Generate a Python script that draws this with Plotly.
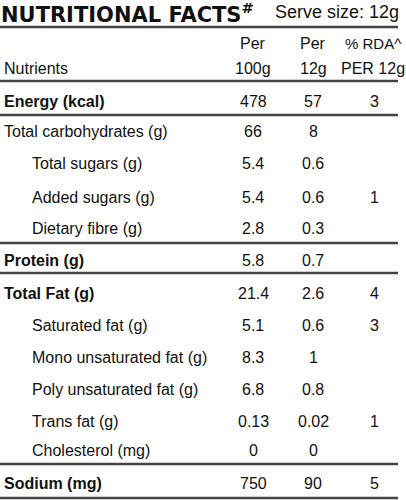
import plotly.graph_objects as go

nutrients = ["Energy (kcal)", "Total carbohydrates (g)", "Total sugars (g)", "Added sugars (g)",
             "Dietary fibre (g)", "Protein (g)", "Total Fat (g)", "Saturated fat (g)",
             "Mono unsaturated fat (g)", "Poly unsaturated fat (g)", "Trans fat (g)",
             "Cholesterol (mg)", "Sodium (mg)"]
per100 = ["478", "66", "5.4", "5.4", "2.8", "5.8", "21.4", "5.1", "8.3", "6.8", "0.13", "0", "750"]
per12 = ["57", "8", "0.6", "0.6", "0.3", "0.7", "2.6", "0.6", "1", "0.8", "0.02", "0", "90"]
rda = ["3", "", "", "1", "", "", "4", "3", "", "", "1", "", "5"]
bold = [True, False, False, False, False, True, True, False, False, False, False, False, True]
indent = [False, False, True, True, True, False, False, True, True, True, True, True, False]
row_y = [101, 131, 163, 197, 228, 260, 293, 325, 357, 389, 421, 450, 483]
rule_y = [27, 81, 115, 243, 273, 464, 498]

FONT = "Liberation Sans, Arial, sans-serif"
C = "#111111"
fig = go.Figure()
ann = []
def t(x, y, s, anchor="center", size=16, b=False, fam=FONT):
    if not s:
        return
    ann.append(dict(x=x, y=y, xref="x", yref="y", text=f"<b>{s}</b>" if b else s, showarrow=False,
                    xanchor=anchor, yanchor="middle", borderpad=0,
                    font=dict(family=fam, size=size, color=C)))

t(0, 13, "NUTRITIONAL FACTS<sup>#</sup>", "left", 21, True, "DejaVu Sans, sans-serif")
t(400, 12, "Serve size: 12g", "right", 18)
t(3, 68, "Nutrients", "left")
t(253, 43, "Per"); t(253, 68, "100g")
t(313, 43, "Per"); t(313, 68, "12g")
t(373, 43, "% RDA^", size=15); t(373, 68, "PER 12g", size=16)
for i, n in enumerate(nutrients):
    y = row_y[i]
    t(31 if indent[i] else 3, y, n, "left", 16, bold[i])
    t(253, y, per100[i]); t(313, y, per12[i]); t(374, y, rda[i])

shapes = [dict(type="line", xref="x", yref="y", x0=0, x1=398, y0=y, y1=y,
               line=dict(color="#444", width=2.5)) for y in rule_y]
fig.update_layout(width=406, height=500, margin=dict(l=0, r=0, t=0, b=0),
                  plot_bgcolor="white", paper_bgcolor="white", annotations=ann, shapes=shapes,
                  xaxis=dict(range=[0, 406], visible=False, fixedrange=True),
                  yaxis=dict(range=[500, 0], visible=False, fixedrange=True), showlegend=False)
fig.write_html("out.html", config={"displayModeBar": False, "staticPlot": True})
with open("out.html", encoding="utf-8") as f:
    html = f.read()
html = html.replace("<head>", "<head><style>html,body{margin:0;padding:0;overflow:hidden}</style>", 1)
with open("out.html", "w", encoding="utf-8") as f:
    f.write(html)
